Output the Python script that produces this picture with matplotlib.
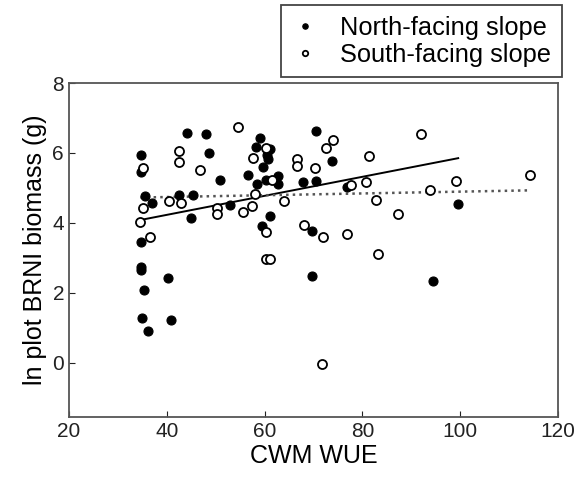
import numpy as np
import matplotlib
matplotlib.use("Agg")
import matplotlib.pyplot as plt

plt.rcParams['font.family'] = ['Liberation Sans', 'DejaVu Sans']

# North-facing slope (filled)
north_x = [34.7, 44.1, 48.0, 48.7, 34.7, 50.8, 35.6, 36.9, 42.6, 45.4, 44.9, 53.0,
           34.7, 34.7, 34.7, 40.3, 35.3, 34.9, 40.8, 36.2,
           59.1, 58.2, 61.1, 60.6, 60.8, 59.7, 70.6, 73.7, 56.7, 58.4, 60.2, 62.8,
           62.8, 67.9, 70.6, 76.8, 61.1, 59.4, 69.6, 69.6, 99.6, 94.4]
north_y = [5.93, 6.56, 6.54, 6.00, 5.46, 5.24, 4.77, 4.58, 4.81, 4.81, 4.14, 4.50,
           3.46, 2.74, 2.64, 2.43, 2.08, 1.27, 1.21, 0.92,
           6.42, 6.16, 6.11, 5.94, 5.84, 5.59, 6.64, 5.78, 5.36, 5.12, 5.24, 5.34,
           5.11, 5.17, 5.21, 5.04, 4.20, 3.90, 3.76, 2.48, 4.55, 2.34]

# South-facing slope (open)
south_x = [54.5, 42.6, 42.6, 35.2, 46.7, 35.2, 40.5, 43.0, 50.2, 50.2, 55.6, 34.6, 36.6,
           60.2, 57.7, 66.7, 66.7, 70.4, 73.9, 72.6, 81.4, 61.5, 77.7, 80.7, 58.0, 64.0,
           82.8, 57.5, 87.3, 60.2, 68.1, 71.9, 76.9, 60.3, 61.1, 83.3, 71.7, 91.9, 99.1,
           93.8, 114.3]
south_y = [6.75, 6.05, 5.75, 5.57, 5.50, 4.44, 4.62, 4.56, 4.43, 4.26, 4.31, 4.04, 3.61,
           6.15, 5.85, 5.83, 5.63, 5.57, 6.37, 6.14, 5.91, 5.23, 5.07, 5.17, 4.82, 4.62,
           4.66, 4.47, 4.26, 3.75, 3.93, 3.60, 3.69, 2.98, 2.98, 3.12, -0.03, 6.54, 5.19,
           4.95, 5.36]

# regression lines (intercept, slope)
north_fit = (3.142, 0.0272)
south_fit = (4.637, 0.00257)

x_ticks = [20, 40, 60, 80, 100, 120]
y_ticks = [0, 2, 4, 6, 8]

fig = plt.figure(figsize=(5.87, 4.79), dpi=100)
ax = fig.add_axes([0.1175, 0.1294, 0.833, 0.6973])

ax.plot(north_x, north_y, 'o', color='black', markersize=6.5, markeredgewidth=0.8,
        label='North-facing slope', zorder=3)
ax.plot(south_x, south_y, 'o', markerfacecolor='white', markeredgecolor='black',
        markersize=6.5, markeredgewidth=1.3, label='South-facing slope', zorder=3)

xn = np.array([min(north_x), max(north_x)])
ax.plot(xn, north_fit[0] + north_fit[1] * xn, '-', color='black', lw=1.4, zorder=2)
xs = np.array([min(south_x), max(south_x)])
ax.plot(xs, south_fit[0] + south_fit[1] * xs, ':', color='#555555', lw=1.8, zorder=2)

ax.set_xlim(20, 120)
ax.set_ylim(-1.55, 8)
ax.set_xticks(x_ticks)
ax.set_yticks(y_ticks)
ax.tick_params(direction='in', length=4, labelsize=15, colors='#222222')
for s in ax.spines.values():
    s.set_color('#555555')
    s.set_linewidth(1.3)

ax.set_xlabel('CWM WUE', fontsize=18, labelpad=2)
ax.set_ylabel('ln plot BRNI biomass (g)', fontsize=18, labelpad=4)

leg = fig.legend(loc='upper right', bbox_to_anchor=(562 / 587, 1 - 5 / 479),
                 fontsize=18.3, markerscale=0.6, handlelength=1.0, handletextpad=0.9,
                 borderpad=0.42, labelspacing=0.12, fancybox=False, framealpha=1,
                 edgecolor='#444444', borderaxespad=0)
leg.get_frame().set_linewidth(1.3)

fig.savefig('out.png', dpi=100)
